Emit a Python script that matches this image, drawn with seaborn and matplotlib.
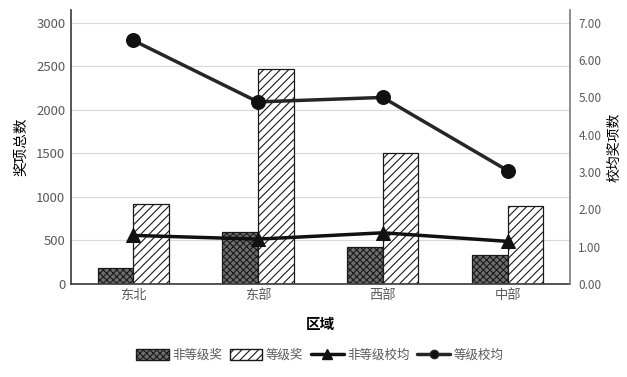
import pandas as pd
import matplotlib.pyplot as plt
import matplotlib.patches as mpatches
from matplotlib.lines import Line2D
import seaborn as sns

regions = ['东北', '东部', '西部', '中部']
non_grade_awards = [187, 601, 421, 333]
grade_awards = [916, 2467, 1505, 900]
non_grade_avg = [1.30, 1.20, 1.37, 1.14]
grade_avg = [6.53, 4.88, 5.00, 3.04]

sns.set_theme(style='white')
plt.rcParams['font.family'] = ['Noto Sans CJK SC', 'DejaVu Sans']
plt.rcParams['hatch.linewidth'] = 0.8

df = pd.DataFrame({
    '区域': regions * 2,
    '奖项': non_grade_awards + grade_awards,
    '类别': ['非等级奖'] * 4 + ['等级奖'] * 4,
})

fig = plt.figure(figsize=(6.27, 3.77), dpi=100)
ax = fig.add_axes([0.113, 0.247, 0.796, 0.726])

sns.barplot(data=df, x='区域', y='奖项', hue='类别', order=regions,
            hue_order=['非等级奖', '等级奖'], width=0.57, legend=False, ax=ax)

styles = {0: dict(facecolor='#6e6e6e', hatch='xxxxx'), 1: dict(facecolor='white', hatch='////')}
for i, bar in enumerate(ax.patches):
    st = styles[i // 4]
    bar.set_facecolor(st['facecolor'])
    bar.set_hatch(st['hatch'])
    bar.set_edgecolor('#1a1a1a')
    bar.set_linewidth(0.9)

ax.set_xlim(-0.5, 3.5)
ax.set_ylim(0, 3146)
ax.set_yticks(range(0, 3001, 500))
ax.yaxis.grid(True, color='#d9d9d9', linewidth=0.8)
ax.set_axisbelow(True)
ax.set_ylabel('奖项总数', fontsize=10.5, color='black', labelpad=6)
ax.set_xlabel('区域', fontsize=10.5, fontweight='bold', color='black', labelpad=10)
ax.tick_params(axis='both', labelsize=9.5, colors='#595959', length=0, pad=4)
for s in ['top', 'right']:
    ax.spines[s].set_visible(False)
ax.spines['left'].set_color('#404040')
ax.spines['bottom'].set_color('#404040')

ax2 = ax.twinx()
xs = list(range(len(regions)))
sns.lineplot(x=xs, y=non_grade_avg, ax=ax2, color='#111111', linewidth=2.5,
             marker='^', markersize=10, markeredgecolor='#111111')
sns.lineplot(x=xs, y=grade_avg, ax=ax2, color='#262626', linewidth=2.5,
             marker='o', markersize=10, markeredgecolor='#111111',
             markerfacecolor='#111111')
ax2.set_ylim(0, 7.34)
ax2.set_yticks([i for i in range(8)])
ax2.set_yticklabels([f'{i:.2f}' for i in range(8)])
ax2.set_ylabel('校均奖项数', fontsize=10, color='black')
ax2.yaxis.set_label_coords(1.075, 0.5)
ax2.tick_params(axis='y', labelsize=8.5, colors='#595959', length=0, pad=6)
ax2.grid(False)
for s in ['top', 'left', 'bottom']:
    ax2.spines[s].set_visible(False)
ax2.spines['right'].set_color('#808080')

handles = [
    mpatches.Patch(facecolor='#6e6e6e', hatch='xxxxx', edgecolor='#1a1a1a', label='非等级奖'),
    mpatches.Patch(facecolor='white', hatch='////', edgecolor='#1a1a1a', label='等级奖'),
    Line2D([], [], color='#111111', linewidth=2.5, marker='^', markersize=7, label='非等级校均'),
    Line2D([], [], color='#262626', linewidth=2.5, marker='o', markersize=6,
           markerfacecolor='#111111', label='等级校均'),
]
leg = fig.legend(handles=handles, loc='center', bbox_to_anchor=(0.51, 0.058), ncol=4,
                 frameon=False, fontsize=9, handlelength=2.6, handleheight=0.9,
                 columnspacing=0.6, handletextpad=0.3)
for t in leg.get_texts():
    t.set_color('#595959')

fig.savefig('out.png', dpi=100)
